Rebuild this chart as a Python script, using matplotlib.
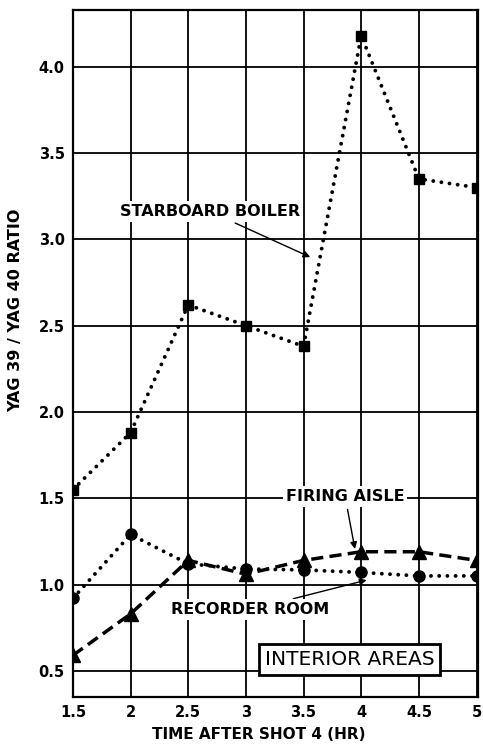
import matplotlib.pyplot as plt

# Hours after shot 4
hours = [1.5, 2.0, 2.5, 3.0, 3.5, 4.0, 4.5, 5.0]

# YAG 39 / YAG 40 ratio per station
starboard_boiler = [1.55, 1.88, 2.62, 2.50, 2.38, 4.18, 3.35, 3.30]
recorder_room = [0.92, 1.29, 1.12, 1.09, 1.085, 1.07, 1.05, 1.05]
firing_aisle = [0.59, 0.83, 1.14, 1.06, 1.14, 1.19, 1.19, 1.14]

x_ticks = [1.5, 2, 2.5, 3, 3.5, 4, 4.5, 5]
x_tick_labels = ['1.5', '2', '2.5', '3', '3.5', '4', '4.5', '5']
y_ticks = [0.5, 1.0, 1.5, 2.0, 2.5, 3.0, 3.5, 4.0]
y_tick_labels = ['0.5', '1.0', '1.5', '2.0', '2.5', '3.0', '3.5', '4.0']

plt.rcParams['font.family'] = ['DejaVu Sans']

fig = plt.figure(figsize=(4.83, 7.46), dpi=100)
ax = fig.add_axes([0.151, 0.066, 0.838, 0.921])

ax.set_xlim(1.5, 5.01)
ax.set_ylim(0.35, 4.33)

ax.set_xticks(x_ticks)
ax.set_xticklabels(x_tick_labels, fontsize=10.5, fontweight='bold')
ax.set_yticks(y_ticks)
ax.set_yticklabels(y_tick_labels, fontsize=10.5, fontweight='bold')
ax.tick_params(length=0, pad=6)
ax.grid(True, color='black', linewidth=1.3)
ax.set_axisbelow(True)
for side in ax.spines.values():
    side.set_linewidth(1.6)

dotted = (0, (0.01, 2.1))
ax.plot(hours, starboard_boiler, color='black', linestyle=dotted,
        linewidth=2.8, dash_capstyle='round', marker='s', markersize=7, zorder=3)
ax.plot(hours, recorder_room, color='black', linestyle=dotted,
        linewidth=2.8, dash_capstyle='round', marker='o', markersize=8, zorder=3)
ax.plot(hours, firing_aisle, color='black', linestyle=(0, (3.5, 1.8)),
        linewidth=2.5, marker='^', markersize=10, zorder=3)

label_box = dict(facecolor='white', edgecolor='none', pad=2)
arrow = dict(arrowstyle='-|>', color='black', lw=1, mutation_scale=10)

ax.annotate('STARBOARD BOILER', xy=(3.58, 2.89), xytext=(2.69, 3.16),
            fontsize=11.5, fontweight='bold', ha='center', va='center',
            bbox=label_box, arrowprops=arrow, zorder=4)
ax.annotate('FIRING AISLE', xy=(3.95, 1.19), xytext=(3.86, 1.51),
            fontsize=11.5, fontweight='bold', ha='center', va='center',
            bbox=label_box, arrowprops=arrow, zorder=4)
ax.annotate('RECORDER ROOM', xy=(4.07, 1.03), xytext=(3.04, 0.855),
            fontsize=11.5, fontweight='bold', ha='center', va='center',
            bbox=label_box, arrowprops=arrow, zorder=4)

ax.text(3.9, 0.566, 'INTERIOR AREAS', fontsize=14.5, ha='center', va='center',
        bbox=dict(facecolor='white', edgecolor='black', linewidth=2, pad=4),
        zorder=4)

ax.set_xlabel('TIME AFTER SHOT 4 (HR)', fontsize=11, fontweight='bold')
ax.set_ylabel('YAG 39 / YAG 40 RATIO', fontsize=11.5, fontweight='bold')
ax.xaxis.set_label_coords(0.46, -0.044)
ax.yaxis.set_label_coords(-0.123, 0.563)

fig.savefig('out.png', dpi=100)
